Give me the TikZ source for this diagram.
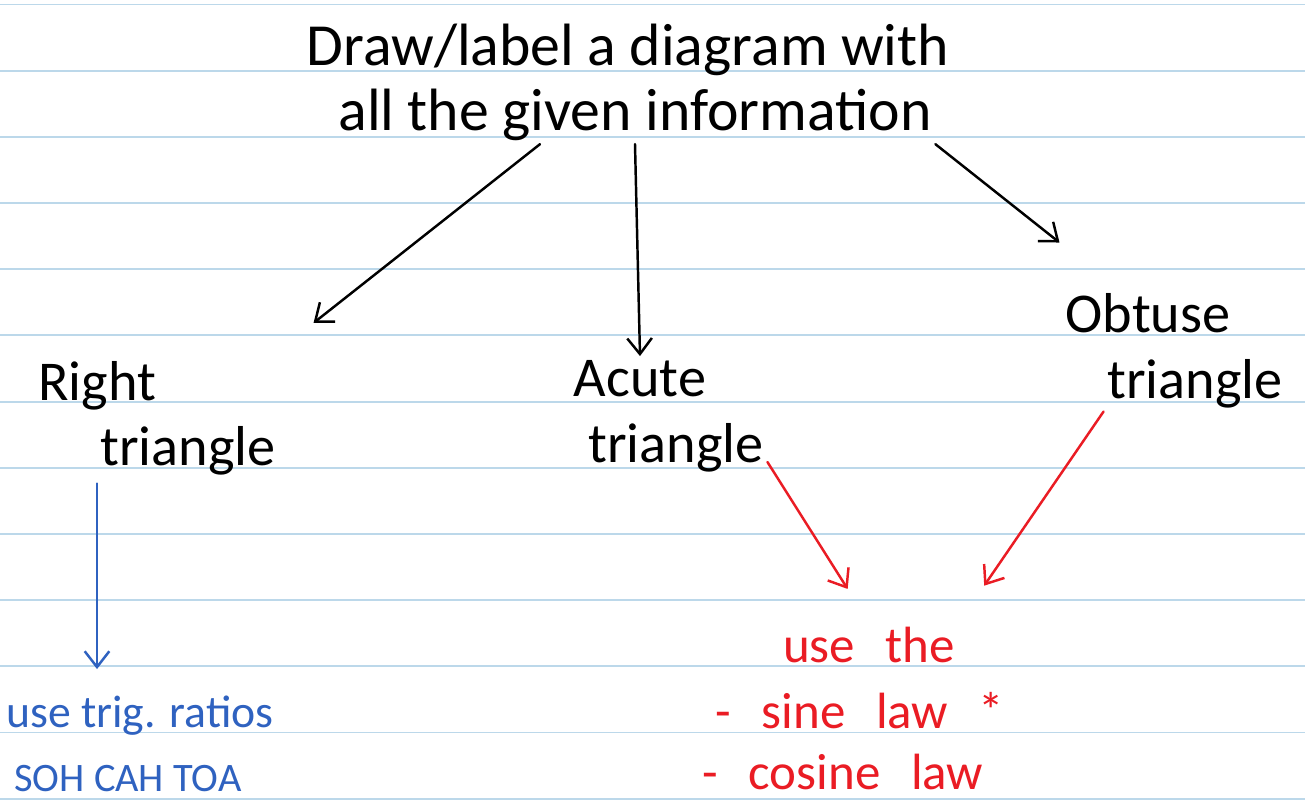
\documentclass[tikz,border=0pt]{standalone}
\usepackage{fontspec}
\setmainfont{Carlito}
\usetikzlibrary{arrows.meta}
\definecolor{ruled}{HTML}{BCD8EA}
\definecolor{penblue}{HTML}{2F62C0}
\definecolor{penred}{HTML}{EA1C24}
\newcommand{\redfont}{\fontsize{29}{34}\selectfont\spaceskip 0.6em\relax}
\tikzset{
	heading/.style={font=\fontsize{34}{40}\selectfont, anchor=base, inner sep=2pt},
	big/.style={font=\fontsize{32}{38}\selectfont, anchor=base, inner sep=2pt},
	small/.style={font=\fontsize{26}{31}\selectfont, anchor=base, inner sep=2pt},
	redline/.style={small, penred, font=\redfont},
	pen/.style={line width=1.4pt, line cap=round, ->},
}
\begin{document}
\begin{tikzpicture}[x=0.02cm, y=-0.02cm, >={Straight Barb[length=9pt,width=14pt]}]
	\fill[white] (0,0) rectangle (1305,806);
	\useasboundingbox (0,0) rectangle (1305,806);
	\draw[ruled, line width=1.1pt]
	(0,4.5) -- (1305,4.5)
	(0,70.7) -- (1305,70.7)
	(0,136.9) -- (1305,136.9)
	(0,203.0) -- (1305,203.0)
	(0,269.2) -- (1305,269.2)
	(0,335.4) -- (1305,335.4)
	(0,401.6) -- (1305,401.6)
	(0,467.8) -- (1305,467.8)
	(0,534.0) -- (1305,534.0)
	(0,600.1) -- (1305,600.1)
	(0,666.3) -- (1305,666.3)
	(0,732.5) -- (1305,732.5)
	(0,798.7) -- (1305,798.7);

	\draw
	(628, 65) node [heading] (title) {Draw/label a diagram with}
	(635, 130) node [heading] (given) {all the given information}
	(97, 400) node [big] (right) {Right}
	(188, 465) node [big] (righttri) {triangle}
	(640, 396) node [big] (acute) {Acute}
	(676, 462) node [big] (acutetri) {triangle}
	(1148, 332) node [big] (obtuse) {Obtuse}
	(1195, 398) node [big] (obtusetri) {triangle}
	(140, 727) node [small, penblue] (trig) {use trig. ratios}
	(128, 791) node [small, penblue, font=\fontsize{23}{28}\selectfont] (soh) {SOH CAH TOA}
	(869, 662) node [redline] (usethe) {use the}
	(860, 728) node [redline] (sine) {- sine law *}
	(843, 789) node [redline, inner sep=1pt] (cosine) {- cosine law};

	\draw[pen, shorten >=3.2cm] ([xshift=-1.9cm]given.south) -- (righttri.north);
	\draw[pen] (given.south) -- (acute.north);
	\draw[pen, shorten >=1.5cm] (given.south east) -- (obtuse);
	\draw[pen, penblue, shorten <=1.4cm, shorten >=0.45cm] (right.south) -- (right.south |- trig.north);
	\draw[pen, penred, shorten >=0.8cm] (acutetri.base east) -- (usethe.north);
	\draw[pen, penred, shorten >=0.9cm] (obtusetri.south west) -- (usethe.north east);
\end{tikzpicture}
\end{document}
